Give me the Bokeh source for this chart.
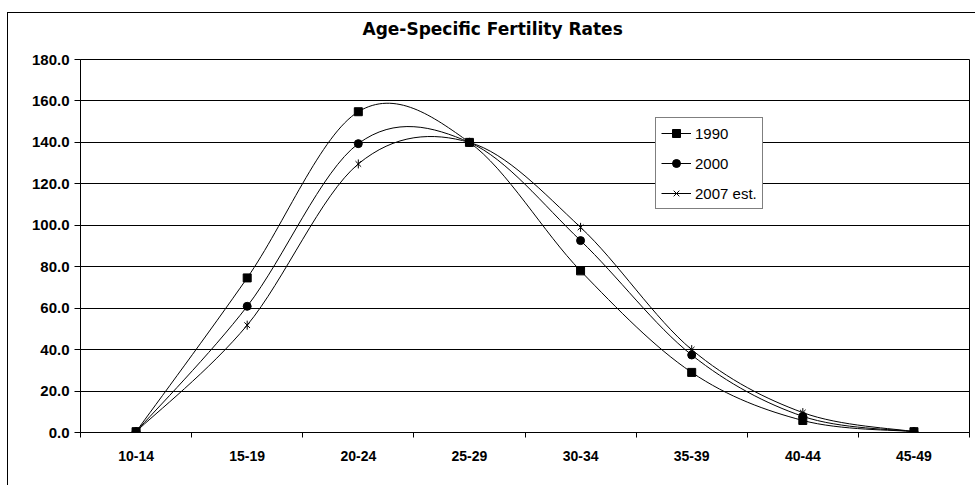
from bokeh.plotting import figure
from bokeh.models import (FixedTicker, PrintfTickFormatter, Legend, LegendItem,
                          ColumnDataSource, Range1d, Title, Spacer)
from bokeh.layouts import column, row
from bokeh.embed import file_html
from bokeh.resources import INLINE
import math

# ---- data ----
categories = ["10-14", "15-19", "20-24", "25-29", "30-34", "35-39", "40-44", "45-49"]
series_names = ["1990", "2000", "2007 est."]
rates_1990 = [0.4, 74.6, 154.8, 140.0, 78.0, 29.0, 5.8, 0.4]
rates_2000 = [0.4, 60.9, 139.4, 140.0, 92.6, 37.4, 7.8, 0.4]
rates_2007 = [0.4, 51.8, 129.6, 140.0, 99.0, 40.0, 9.6, 0.4]
y_ticks = [0, 20, 40, 60, 80, 100, 120, 140, 160, 180]
chart_title = "Age-Specific Fertility Rates"

FONT = "Liberation Sans"

p = figure(width=968, height=473, output_backend="svg", toolbar_location=None,
           title_location=None,
           x_range=Range1d(-0.5, len(categories) - 0.5), y_range=Range1d(0, 180),
           min_border_left=72, min_border_right=7, min_border_top=46, min_border_bottom=54)
p.styles = {"border-top": "1px solid #000", "border-left": "1px solid #000"}

p.outline_line_color = "#000"
p.outline_line_width = 1
p.background_fill_color = "white"
p.border_fill_color = "white"

# titles: a blank one next to the frame, the chart title above it
p.add_layout(Title(text=" ", text_font=FONT, text_font_size="10px", standoff=6), "above")
p.add_layout(Title(text=chart_title, align="left", offset=282, standoff=4,
                   text_font="DejaVu Sans", text_font_size="17px",
                   text_font_style="bold", text_color="#000"), "above")

# grid
p.xgrid.grid_line_color = None
p.ygrid.grid_line_color = "#000"
p.ygrid.grid_line_width = 1
p.ygrid.ticker = FixedTicker(ticks=y_ticks)

# y axis
ya = p.yaxis[0]
ya.ticker = FixedTicker(ticks=y_ticks)
ya.formatter = PrintfTickFormatter(format="%.1f")
ya.axis_line_color = "#000"
ya.major_tick_line_color = "#000"
ya.major_tick_out = 6
ya.major_tick_in = 0
ya.minor_tick_line_color = None
ya.major_label_text_font = FONT
ya.major_label_text_font_size = "15px"
ya.major_label_text_font_style = "bold"
ya.major_label_text_color = "#000"
ya.major_label_standoff = 5

# x axis
xa = p.xaxis[0]
xa.ticker = FixedTicker(ticks=list(range(len(categories))),
                        minor_ticks=[i - 0.5 for i in range(len(categories) + 1)])
xa.major_label_overrides = {i: c for i, c in enumerate(categories)}
xa.axis_line_color = "#000"
xa.major_tick_line_color = None
xa.minor_tick_line_color = "#000"
xa.minor_tick_out = 5
xa.minor_tick_in = 0
xa.major_label_text_font = FONT
xa.major_label_text_font_size = "14px"
xa.major_label_text_font_style = "bold"
xa.major_label_text_color = "#000"
xa.major_label_standoff = 12


def smooth_segments(vals):
    # Bezier control points (Catmull-Rom style, as spreadsheet smoothed lines)
    n = len(vals)
    pts = [(float(i), float(v)) for i, v in enumerate(vals)]
    d = dict(x0=[], y0=[], x1=[], y1=[], cx0=[], cy0=[], cx1=[], cy1=[])
    for i in range(n - 1):
        p0 = pts[i - 1] if i > 0 else pts[i]
        p1 = pts[i]
        p2 = pts[i + 1]
        p3 = pts[i + 2] if i + 2 < n else pts[i + 1]
        d["x0"].append(p1[0]); d["y0"].append(p1[1])
        d["x1"].append(p2[0]); d["y1"].append(p2[1])
        d["cx0"].append(p1[0] + (p2[0] - p0[0]) / 6.0)
        d["cy0"].append(p1[1] + (p2[1] - p0[1]) / 6.0)
        d["cx1"].append(p2[0] - (p3[0] - p1[0]) / 6.0)
        d["cy1"].append(p2[1] - (p3[1] - p1[1]) / 6.0)
    return ColumnDataSource(d)


xs = list(range(len(categories)))
items = []

# 1990
b1 = p.bezier(x0="x0", y0="y0", x1="x1", y1="y1", cx0="cx0", cy0="cy0", cx1="cx1", cy1="cy1",
              source=smooth_segments(rates_1990), line_color="#000", line_width=1)
m1 = p.scatter(xs, rates_1990, marker="square", size=8, fill_color="#000", line_color="#000")
items.append(LegendItem(label=series_names[0], renderers=[b1, m1]))

# 2000
b2 = p.bezier(x0="x0", y0="y0", x1="x1", y1="y1", cx0="cx0", cy0="cy0", cx1="cx1", cy1="cy1",
              source=smooth_segments(rates_2000), line_color="#000", line_width=1)
m2 = p.scatter(xs, rates_2000, marker="circle", size=8, fill_color="#000", line_color="#000")
items.append(LegendItem(label=series_names[1], renderers=[b2, m2]))

# 2007 est.
b3 = p.bezier(x0="x0", y0="y0", x1="x1", y1="y1", cx0="cx0", cy0="cy0", cx1="cx1", cy1="cy1",
              source=smooth_segments(rates_2007), line_color="#000", line_width=1)
m3a = p.scatter(xs, rates_2007, marker="x", size=8, line_color="#000", line_width=1)
m3b = p.scatter(xs, rates_2007, marker="dash", size=9, angle=math.pi / 2,
                line_color="#000", line_width=1)
items.append(LegendItem(label=series_names[2], renderers=[b3, m3a, m3b]))

legend = Legend(items=items, location=(575, 223))
legend.border_line_color = "#000"
legend.border_line_width = 1
legend.background_fill_color = "white"
legend.background_fill_alpha = 1
legend.label_text_font = FONT
legend.label_text_font_size = "15px"
legend.label_text_color = "#000"
legend.glyph_width = 30
legend.glyph_height = 20
legend.label_height = 20
legend.label_standoff = 4
legend.spacing = 10
legend.padding = 5
legend.margin = 0
p.add_layout(legend, "center")

layout = row(Spacer(width=7), column(Spacer(height=12), p, spacing=0), spacing=0)
open("out.html", "w").write(file_html(layout, INLINE))
